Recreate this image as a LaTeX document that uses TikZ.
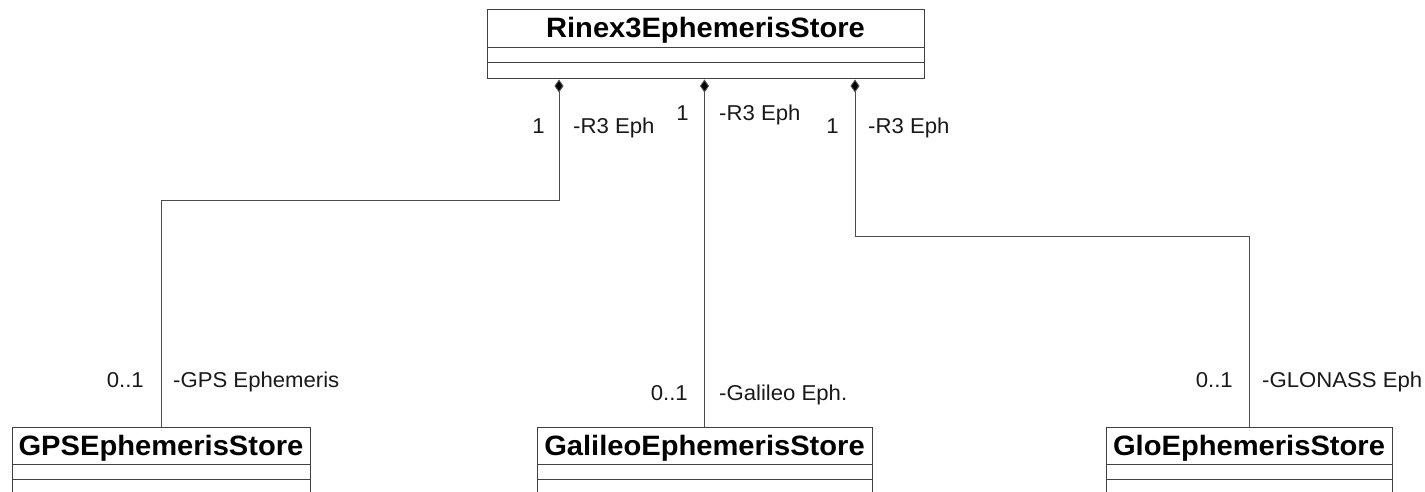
\documentclass[tikz,border=0pt]{standalone}
\usepackage{fontspec}
\setmainfont{Liberation Sans}
\newfontfamily\umlfont[FakeStretch=1.04]{Liberation Sans}
\newfontfamily\lblfont[FakeStretch=1.03]{Liberation Sans}
\usetikzlibrary{arrows.meta}
\tikzset{
  umlbox/.style={draw=black!75, line width=1pt, minimum height=69pt, inner sep=0pt, fill=white},
  comp/.style={draw=black!70, line width=1pt, {Diamond[length=13pt,width=9pt,fill=black]}-},
  lbl/.style={font=\lblfont\fontsize{21.5}{23}\selectfont, inner sep=0pt, text=black!90},
  ttl/.style={font=\umlfont\bfseries\fontsize{28}{30}\selectfont, inner sep=0pt, anchor=base},
}
\begin{document}
\begin{tikzpicture}[x=1pt,y=-1pt]
\useasboundingbox (0,0) rectangle (1425,492);
\clip (0,0) rectangle (1425,492);
% boxes
\node[umlbox, minimum width=437pt] (rinex) at (705.5,44.5) {};
\node[umlbox, minimum width=298pt] (gps) at (161,461.5) {};
\node[umlbox, minimum width=335pt] (gal) at (704.5,461.5) {};
\node[umlbox, minimum width=286pt] (glo) at (1249,461.5) {};
% compartments
\foreach \b/\a/\c in {rinex/48/63, gps/464/479, gal/464/479, glo/464/479}{
  \draw[black!75, line width=1pt] (\b.west |- 0,\a) -- (\b.east |- 0,\a);
  \draw[black!75, line width=1pt] (\b.west |- 0,\c) -- (\b.east |- 0,\c);
}
% titles
\node[ttl] (rinexT) at (705.5,37.7) {Rinex3EphemerisStore};
\node[ttl] (gpsT) at (161,455) {GPSEphemerisStore};
\node[ttl] (galT) at (704.5,455) {GalileoEphemerisStore};
\node[ttl] (gloT) at (1249,455) {GloEphemerisStore};
% connectors
\draw[comp] ([xshift=-146.5pt]rinex.south) -- ++(0,121) -| (gps.north);
\draw[comp] (gal.north |- rinex.south) -- (gal.north);
\draw[comp] ([xshift=149.5pt]rinex.south) -- ++(0,157) -| (glo.north);
% role labels top
\node[lbl, anchor=base east] (m1) at (545,133.5) {1};
\node[lbl, anchor=base west] (r1) at (573,133.5) {-R3 Eph};
\node[lbl, anchor=base east] (m2) at (689,121) {1};
\node[lbl, anchor=base west] (r2) at (719,121) {-R3 Eph};
\node[lbl, anchor=base east] (m3) at (839,133.5) {1};
\node[lbl, anchor=base west] (r3) at (868,133.5) {-R3 Eph};
% role labels bottom
\node[lbl, anchor=base east] (m4) at (144,387.5) {0..1};
\node[lbl, anchor=base west] (r4) at (173,387.5) {-GPS Ephemeris};
\node[lbl, anchor=base east] (m5) at (688,400.5) {0..1};
\node[lbl, anchor=base west] (r5) at (719,400.5) {-Galileo Eph.};
\node[lbl, anchor=base east] (m6) at (1233,387.5) {0..1};
\node[lbl, anchor=base west] (r6) at (1262,387.5) {-GLONASS Eph};
\end{tikzpicture}
\end{document}
